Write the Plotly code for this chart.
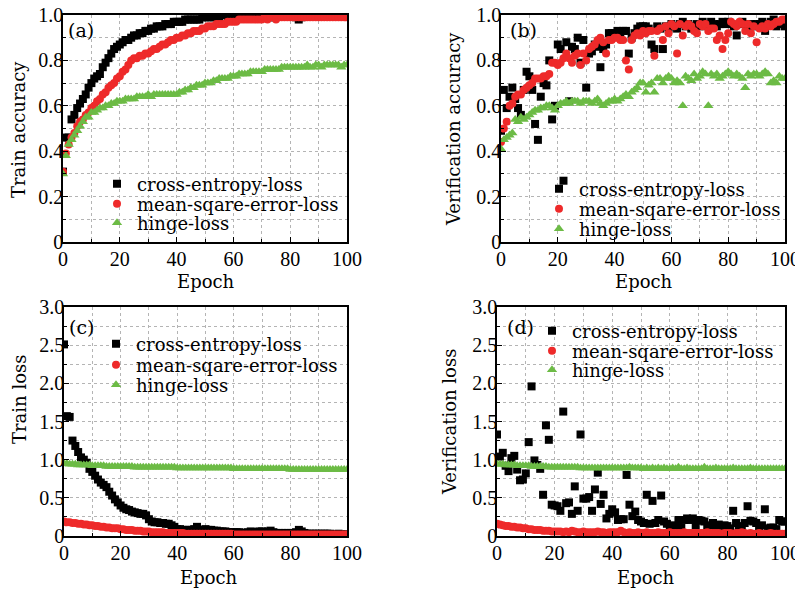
import plotly.graph_objects as go

# ---- data ----
epochs = list(range(0, 101))
series_names = ["cross-entropy-loss", "mean-sqare-error-loss", "hinge-loss"]

train_acc_ce = [
    0.31, 0.46, 0.46, 0.54, 0.56, 0.59, 0.61, 0.63, 0.65, 0.68,
    0.70, 0.72, 0.73, 0.74, 0.77, 0.79, 0.81, 0.83, 0.85, 0.86,
    0.87, 0.88, 0.89, 0.89, 0.90, 0.91, 0.91, 0.92, 0.92, 0.93,
    0.93, 0.94, 0.94, 0.95, 0.95, 0.95, 0.96, 0.96, 0.96, 0.97,
    0.97, 0.97, 0.97, 0.98, 0.98, 0.98, 0.98, 0.98, 0.98, 0.99,
    0.99, 0.99, 0.99, 0.99, 0.99, 0.99, 1.00, 1.00, 0.99, 1.00,
    1.00, 1.00, 1.00, 1.00, 1.00, 1.00, 1.00, 1.00, 1.00, 1.00,
    1.00, 1.00, 1.00, 0.99, 0.99, 1.00, 1.00, 1.00, 1.00, 1.00,
    1.00, 1.00, 0.99, 0.98, 0.99, 1.00, 1.00, 1.00, 1.00, 1.00,
    1.00, 1.00, 1.00, 1.00, 1.00, 1.00, 1.00, 1.00, 1.00, 1.00, 1.00]
train_acc_mse = [
    0.31, 0.39, 0.43, 0.46, 0.48, 0.51, 0.53, 0.54, 0.56, 0.57,
    0.59, 0.60, 0.62, 0.63, 0.65, 0.66, 0.68, 0.69, 0.70, 0.72,
    0.73, 0.75, 0.76, 0.78, 0.80, 0.81, 0.81, 0.82, 0.82, 0.83,
    0.83, 0.84, 0.85, 0.85, 0.86, 0.87, 0.87, 0.88, 0.89, 0.89,
    0.90, 0.90, 0.91, 0.91, 0.92, 0.92, 0.93, 0.93, 0.93, 0.94,
    0.94, 0.95, 0.95, 0.95, 0.96, 0.96, 0.96, 0.96, 0.97, 0.97,
    0.97, 0.97, 0.98, 0.98, 0.98, 0.98, 0.98, 0.98, 0.98, 0.98,
    0.98, 0.99, 0.98, 0.99, 0.99, 0.98, 0.99, 0.99, 0.99, 0.99,
    0.99, 0.99, 0.99, 0.99, 0.99, 0.99, 0.99, 0.99, 0.99, 0.99,
    0.99, 0.99, 0.99, 0.99, 0.99, 0.99, 0.99, 0.99, 0.99, 0.99, 0.99]
train_acc_hinge = [
    0.30, 0.38, 0.43, 0.45, 0.47, 0.49, 0.51, 0.53, 0.55, 0.55,
    0.57, 0.57, 0.58, 0.59, 0.59, 0.60, 0.60, 0.61, 0.61, 0.62,
    0.62, 0.62, 0.63, 0.63, 0.63, 0.63, 0.64, 0.64, 0.64, 0.64,
    0.65, 0.64, 0.65, 0.65, 0.65, 0.65, 0.65, 0.65, 0.65, 0.65,
    0.65, 0.66, 0.66, 0.67, 0.67, 0.68, 0.68, 0.69, 0.69, 0.69,
    0.70, 0.70, 0.70, 0.71, 0.71, 0.72, 0.72, 0.72, 0.72, 0.73,
    0.73, 0.73, 0.74, 0.74, 0.74, 0.74, 0.75, 0.75, 0.75, 0.75,
    0.75, 0.76, 0.76, 0.76, 0.76, 0.76, 0.76, 0.77, 0.77, 0.77,
    0.77, 0.77, 0.77, 0.77, 0.77, 0.77, 0.78, 0.77, 0.77, 0.78,
    0.78, 0.77, 0.78, 0.78, 0.78, 0.78, 0.78, 0.78, 0.77, 0.78, 0.78]

val_acc_ce = [
    0.49, 0.67, 0.59, 0.64, 0.68, 0.63, 0.59, 0.56, 0.67, 0.75,
    0.73, 0.67, 0.52, 0.45, 0.64, 0.70, 0.69, 0.80, 0.54, 0.60,
    0.87, 0.85, 0.27, 0.88, 0.62, 0.86, 0.85, 0.90, 0.79, 0.89,
    0.68, 0.83, 0.84, 0.87, 0.86, 0.77, 0.85, 0.87, 0.92, 0.92,
    0.92, 0.93, 0.92, 0.93, 0.93, 0.83, 0.90, 0.92, 0.94, 0.95,
    0.95, 0.95, 0.94, 0.87, 0.85, 0.95, 0.94, 0.85, 0.95, 0.94,
    0.96, 0.95, 0.94, 0.96, 0.97, 0.95, 0.96, 0.94, 0.95, 0.96,
    0.95, 0.97, 0.96, 0.95, 0.97, 0.96, 0.95, 0.96, 0.97, 0.96,
    0.97, 0.96, 0.95, 0.91, 0.96, 0.97, 0.96, 0.95, 0.96, 0.95,
    0.96, 0.96, 0.97, 0.93, 0.96, 0.97, 0.98, 0.95, 0.96, 0.97, 0.95]
val_acc_mse = [
    0.44, 0.50, 0.53, 0.60, 0.61, 0.64, 0.65, 0.65, 0.67, 0.68,
    0.69, 0.70, 0.72, 0.72, 0.72, 0.73, 0.73, 0.74, 0.79, 0.79,
    0.78, 0.79, 0.81, 0.83, 0.81, 0.79, 0.82, 0.83, 0.78, 0.83,
    0.80, 0.85, 0.86, 0.87, 0.89, 0.90, 0.88, 0.83, 0.89, 0.89,
    0.90, 0.90, 0.89, 0.89, 0.80, 0.76, 0.89, 0.91, 0.92, 0.91,
    0.93, 0.92, 0.93, 0.93, 0.82, 0.93, 0.94, 0.89, 0.95, 0.92,
    0.96, 0.95, 0.83, 0.96, 0.91, 0.95, 0.96, 0.95, 0.93, 0.92,
    0.96, 0.95, 0.96, 0.93, 0.94, 0.94, 0.89, 0.91, 0.85, 0.89,
    0.92, 0.97, 0.96, 0.95, 0.97, 0.96, 0.93, 0.96, 0.92, 0.95,
    0.88, 0.94, 0.95, 0.94, 0.96, 0.95, 0.96, 0.97, 0.97, 0.98, 0.98]
val_acc_hinge = [
    0.41, 0.45, 0.46, 0.47, 0.48, 0.54, 0.53, 0.55, 0.54, 0.55,
    0.56, 0.57, 0.58, 0.58, 0.59, 0.59, 0.60, 0.60, 0.59, 0.58,
    0.60, 0.61, 0.61, 0.62, 0.61, 0.62, 0.62, 0.62, 0.61, 0.62,
    0.62, 0.62, 0.61, 0.62, 0.63, 0.61, 0.60, 0.61, 0.62, 0.62,
    0.63, 0.62, 0.63, 0.64, 0.65, 0.64, 0.66, 0.67, 0.68, 0.70,
    0.70, 0.66, 0.69, 0.70, 0.66, 0.72, 0.72, 0.70, 0.72, 0.73,
    0.72, 0.70, 0.71, 0.70, 0.60, 0.73, 0.72, 0.71, 0.74, 0.72,
    0.73, 0.75, 0.74, 0.60, 0.74, 0.73, 0.74, 0.72, 0.73, 0.74,
    0.75, 0.74, 0.73, 0.74, 0.73, 0.72, 0.68, 0.74, 0.73, 0.74,
    0.74, 0.73, 0.74, 0.75, 0.74, 0.70, 0.71, 0.70, 0.73, 0.72, 0.72]

train_loss_ce = [
    2.51, 1.57, 1.56, 1.25, 1.18, 1.10, 1.03, 1.00, 0.96, 0.88,
    0.84, 0.79, 0.74, 0.70, 0.67, 0.64, 0.58, 0.53, 0.48, 0.44,
    0.40, 0.37, 0.35, 0.34, 0.32, 0.31, 0.30, 0.29, 0.29, 0.27,
    0.22, 0.19, 0.18, 0.18, 0.17, 0.17, 0.16, 0.16, 0.14, 0.12,
    0.09, 0.09, 0.08, 0.08, 0.08, 0.08, 0.09, 0.12, 0.08, 0.08,
    0.09, 0.08, 0.08, 0.07, 0.07, 0.06, 0.06, 0.06, 0.05, 0.05,
    0.05, 0.05, 0.05, 0.04, 0.04, 0.05, 0.06, 0.05, 0.05, 0.06,
    0.06, 0.05, 0.06, 0.07, 0.05, 0.04, 0.04, 0.04, 0.04, 0.04,
    0.04, 0.04, 0.05, 0.08, 0.06, 0.04, 0.03, 0.03, 0.03, 0.03,
    0.03, 0.03, 0.03, 0.03, 0.03, 0.02, 0.02, 0.03, 0.02, 0.02, 0.02]
train_loss_mse = [
    0.19, 0.18, 0.18, 0.17, 0.17, 0.16, 0.16, 0.15, 0.15, 0.14,
    0.14, 0.13, 0.13, 0.12, 0.12, 0.11, 0.11, 0.10, 0.10, 0.10,
    0.09, 0.09, 0.08, 0.08, 0.08, 0.07, 0.07, 0.07, 0.06, 0.06,
    0.06, 0.05, 0.05, 0.05, 0.05, 0.05, 0.04, 0.04, 0.04, 0.04,
    0.04, 0.04, 0.04, 0.03, 0.03, 0.03, 0.03, 0.03, 0.03, 0.03,
    0.03, 0.03, 0.03, 0.03, 0.03, 0.03, 0.03, 0.03, 0.03, 0.03,
    0.02, 0.02, 0.02, 0.02, 0.02, 0.02, 0.02, 0.02, 0.02, 0.02,
    0.02, 0.02, 0.02, 0.02, 0.02, 0.02, 0.02, 0.02, 0.02, 0.02,
    0.02, 0.02, 0.02, 0.02, 0.02, 0.02, 0.02, 0.02, 0.02, 0.02,
    0.02, 0.02, 0.02, 0.02, 0.02, 0.02, 0.02, 0.02, 0.02, 0.02, 0.02]
train_loss_hinge = [
    0.95, 0.95, 0.94, 0.94, 0.94, 0.93, 0.93, 0.93, 0.93, 0.93,
    0.92, 0.92, 0.92, 0.92, 0.92, 0.91, 0.91, 0.91, 0.91, 0.91,
    0.91, 0.91, 0.91, 0.91, 0.91, 0.90, 0.90, 0.90, 0.90, 0.90,
    0.90, 0.90, 0.90, 0.90, 0.90, 0.90, 0.90, 0.90, 0.90, 0.90,
    0.89, 0.89, 0.89, 0.89, 0.89, 0.89, 0.89, 0.89, 0.89, 0.89,
    0.89, 0.89, 0.89, 0.89, 0.89, 0.89, 0.89, 0.89, 0.89, 0.89,
    0.88, 0.88, 0.88, 0.88, 0.88, 0.88, 0.88, 0.88, 0.88, 0.88,
    0.88, 0.88, 0.88, 0.88, 0.88, 0.88, 0.88, 0.88, 0.88, 0.88,
    0.87, 0.87, 0.87, 0.87, 0.87, 0.87, 0.87, 0.87, 0.87, 0.87,
    0.87, 0.87, 0.87, 0.87, 0.87, 0.87, 0.87, 0.87, 0.87, 0.87, 0.87]

val_loss_ce = [
    1.33, 1.04, 1.09, 0.92, 0.85, 1.02, 1.05, 0.87, 0.73, 0.74,
    0.82, 1.23, 1.96, 0.99, 0.93, 0.88, 0.54, 1.45, 1.26, 0.41,
    0.40, 0.39, 0.33, 1.63, 0.43, 0.44, 0.29, 0.65, 0.33, 1.33,
    0.49, 0.49, 0.51, 0.33, 0.61, 0.83, 0.42, 0.54, 0.23, 0.29,
    0.35, 0.31, 0.21, 0.22, 0.22, 0.80, 0.41, 0.26, 0.32, 0.21,
    0.19, 0.17, 0.54, 0.16, 0.46, 0.17, 0.21, 0.53, 0.19, 0.16,
    0.10, 0.14, 0.12, 0.21, 0.11, 0.21, 0.23, 0.21, 0.23, 0.14,
    0.21, 0.20, 0.19, 0.12, 0.14, 0.17, 0.12, 0.15, 0.11, 0.14,
    0.13, 0.10, 0.33, 0.17, 0.10, 0.13, 0.17, 0.39, 0.20, 0.19,
    0.17, 0.11, 0.14, 0.35, 0.10, 0.11, 0.11, 0.09, 0.21, 0.19, 0.19]
val_loss_mse = [
    0.16, 0.15, 0.14, 0.13, 0.13, 0.12, 0.12, 0.11, 0.11, 0.10,
    0.10, 0.09, 0.09, 0.08, 0.08, 0.08, 0.07, 0.07, 0.07, 0.06,
    0.06, 0.06, 0.06, 0.05, 0.06, 0.05, 0.07, 0.06, 0.05, 0.05,
    0.06, 0.05, 0.05, 0.05, 0.05, 0.06, 0.05, 0.05, 0.04, 0.05,
    0.05, 0.05, 0.05, 0.07, 0.05, 0.04, 0.05, 0.04, 0.04, 0.05,
    0.04, 0.04, 0.05, 0.04, 0.04, 0.04, 0.05, 0.04, 0.04, 0.04,
    0.05, 0.04, 0.04, 0.04, 0.04, 0.05, 0.04, 0.04, 0.04, 0.04,
    0.04, 0.04, 0.04, 0.05, 0.04, 0.04, 0.04, 0.04, 0.03, 0.04,
    0.04, 0.04, 0.03, 0.04, 0.04, 0.05, 0.04, 0.03, 0.04, 0.03,
    0.03, 0.04, 0.03, 0.03, 0.03, 0.04, 0.03, 0.03, 0.03, 0.03, 0.03]
val_loss_hinge = [
    0.94, 0.94, 0.94, 0.93, 0.93, 0.93, 0.93, 0.92, 0.92, 0.92,
    0.92, 0.92, 0.91, 0.91, 0.91, 0.91, 0.91, 0.91, 0.90, 0.90,
    0.90, 0.90, 0.90, 0.90, 0.90, 0.90, 0.90, 0.90, 0.90, 0.89,
    0.89, 0.89, 0.89, 0.89, 0.89, 0.89, 0.89, 0.89, 0.89, 0.89,
    0.89, 0.89, 0.89, 0.89, 0.89, 0.89, 0.90, 0.89, 0.89, 0.89,
    0.89, 0.88, 0.89, 0.88, 0.89, 0.88, 0.89, 0.88, 0.89, 0.88,
    0.88, 0.89, 0.88, 0.90, 0.88, 0.88, 0.89, 0.88, 0.88, 0.88,
    0.88, 0.88, 0.90, 0.88, 0.88, 0.88, 0.89, 0.88, 0.88, 0.88,
    0.88, 0.88, 0.89, 0.88, 0.88, 0.88, 0.88, 0.88, 0.89, 0.88,
    0.88, 0.88, 0.88, 0.88, 0.88, 0.88, 0.88, 0.88, 0.88, 0.88, 0.88]

acc_ticks = [0, 0.2, 0.4, 0.6, 0.8, 1.0]
acc_ticktext = ["0", "0.2", "0.4", "0.6", "0.8", "1.0"]
loss_ticks = [0, 0.5, 1.0, 1.5, 2.0, 2.5, 3.0]
loss_ticktext = ["0", "0.5", "1.0", "1.5", "2.0", "2.5", "3.0"]
epoch_ticks = [0, 20, 40, 60, 80, 100]

# ---- styling ----
# the page body keeps its default 8px margin, so the figure is drawn 8px in
# from the window corner; positions below are given in window pixels
OFF = 8
W, H = 803 - OFF, 591 - OFF
FONT = "DejaVu Serif"
TICKFONT = "Liberation Serif"
colors = ["#000000", "#ee2a2a", "#6cbb45"]
symbols = ["square", "circle", "triangle-up"]
sizes = [8, 8, 9]


def px(x):
    return (x - OFF) / W


def py(y):
    return 1 - (y - OFF) / H


fig = go.Figure()

# (axis suffix, data, text start x, legend row y's)
panels = [
    ("", [train_acc_ce, train_acc_mse, train_acc_hinge], 137, [184, 204, 223]),
    ("2", [val_acc_ce, val_acc_mse, val_acc_hinge], 579, [189, 209, 229]),
    ("3", [train_loss_ce, train_loss_mse, train_loss_hinge], 136, [344, 365, 385]),
    ("4", [val_loss_ce, val_loss_mse, val_loss_hinge], 572, [331, 351, 370]),
]

legend_layouts = {}
n = 0
for suffix, data, tx, rows in panels:
    for i, vals in enumerate(data):
        n += 1
        lname = "legend" if n == 1 else "legend%d" % n
        fig.add_trace(go.Scatter(
            x=epochs, y=vals, mode="markers", name=series_names[i],
            marker=dict(symbol=symbols[i], size=sizes[i], color=colors[i],
                        line=dict(width=0)),
            xaxis="x" + suffix, yaxis="y" + suffix, legend=lname))
        legend_layouts[lname] = dict(
            x=px(tx - 40), y=py(rows[i]), xanchor="left", yanchor="middle",
            bgcolor="rgba(0,0,0,0)", borderwidth=0, itemwidth=30,
            font=dict(family=FONT, size=18, color="black"))

grid = dict(showgrid=True, gridcolor="#b4b4b4", griddash="dot", gridwidth=1)
common = dict(showline=True, linecolor="black", linewidth=1.5, mirror=True,
              ticks="inside", ticklen=5, tickcolor="black", tickwidth=1.2,
              zeroline=False, automargin=False, ticklabeloverflow="allow",
              tickfont=dict(family=TICKFONT, size=20, color="black"),
              **grid)


def xax(domain, anchor):
    return dict(domain=domain, anchor=anchor, range=[0, 100],
                tickmode="array", tickvals=epoch_ticks, ticklabelstandoff=-2,
                minor=dict(dtick=10, tick0=0, ticks="inside", ticklen=3,
                           tickcolor="black", **grid),
                **common)


def yax(domain, anchor, vals, text, rng, mdt):
    return dict(domain=domain, anchor=anchor, range=rng,
                tickmode="array", tickvals=vals, ticktext=text, ticklabelstandoff=-6,
                minor=dict(dtick=mdt, tick0=0, ticks="inside", ticklen=3,
                           tickcolor="black", **grid),
                **common)


top = [py(242), py(15)]
bot = [py(536), py(307)]
layout = dict(
    width=W, height=H,
    margin=dict(l=0, r=0, t=0, b=0, pad=0, autoexpand=False),
    showlegend=True,
    paper_bgcolor="white", plot_bgcolor="white",
    xaxis=xax([px(63), px(347)], "y"),
    yaxis=yax(top, "x", acc_ticks, acc_ticktext, [0, 1], 0.1),
    xaxis2=xax([px(501), px(785)], "y2"),
    yaxis2=yax(top, "x2", acc_ticks, acc_ticktext, [0, 1], 0.1),
    xaxis3=xax([px(64), px(347)], "y3"),
    yaxis3=yax(bot, "x3", loss_ticks, loss_ticktext, [0, 3], 0.25),
    xaxis4=xax([px(497), px(785)], "y4"),
    yaxis4=yax(bot, "x4", loss_ticks, loss_ticktext, [0, 3], 0.25),
    **legend_layouts,
)
fig.update_layout(**layout)

# axis titles and panel labels
labels = [
    ("Train accuracy", 19, 130, -90),
    ("Verification accuracy", 454, 129, -90),
    ("Train loss", 19, 400, -90),
    ("Verification loss", 449, 422, -90),
    ("Epoch", 206, 281, 0),
    ("Epoch", 644, 281, 0),
    ("Epoch", 209, 577, 0),
    ("Epoch", 646, 577, 0),
]
for text, x, y, ang in labels:
    fig.add_annotation(text=text, x=px(x), y=py(y), xref="paper", yref="paper",
                       xanchor="center", yanchor="middle", textangle=ang,
                       showarrow=False, font=dict(family=FONT, size=18, color="black"))

for text, x, y in [("(a)", 81, 30), ("(b)", 523, 30), ("(c)", 81, 327), ("(d)", 520, 327)]:
    fig.add_annotation(text=text, x=px(x), y=py(y), xref="paper", yref="paper",
                       xanchor="center", yanchor="middle", showarrow=False,
                       font=dict(family=FONT, size=19, color="black"))

fig.write_html("out.html")
